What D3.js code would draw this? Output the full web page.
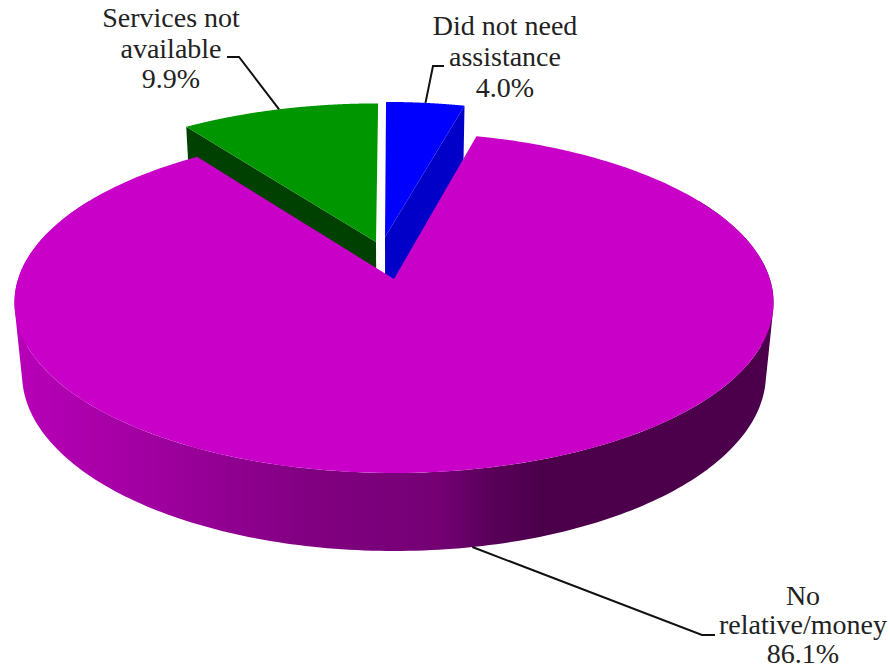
<!DOCTYPE html>
<html>
<head>
<meta charset="utf-8">
<script src="https://cdn.jsdelivr.net/npm/d3@7"></script>
<style>
  html, body { margin: 0; padding: 0; background: #fff; overflow: hidden; }
  svg { display: block; }
  text { font-family: "Liberation Serif", "Times New Roman", serif; font-size: 28px; fill: #222; text-anchor: middle; }
</style>
</head>
<body>
<svg id="chart" width="890" height="669"></svg>
<script>
// Share of respondents by reason
const categories = ["Did not need assistance", "No relative/money", "Services not available"];
const shares = [4.0, 86.1, 9.9];

const topColors = ["#0000ff", "#c800c8", "#009600"];
const wallColors = ["#0000c8", "url(#wallShade)", "#004000"];

// Label text, broken over lines as drawn
const labelLines = [
  ["Did not need", "assistance", "4.0%"],
  ["No", "relative/money", "86.1%"],
  ["Services not", "available", "9.9%"]
];
const labelCentres = [[505, 35], [803, 604.5], [171, 27]];
const labelLineStep = [31, 29, 30.5];
const leaderElbows = [[[444, 66], [433, 66]], [[715, 635], [702, 635]], [[227, 57], [239, 57]]];
const leaderRing = [0, 1, 0];               // 0 top rim, 1 bottom rim

// Slice placement on the pie's plane: explosion offset and radius
const sliceCentre = [[-0.0248, -0.2602], [0, 0], [-0.0494, -0.2283]];
const sliceRadius = [0.98, 1, 1.0];

// Perspective camera for the tilted disc
const apex = [394, 279];
const cam = { a: 375.9, b: 167.2, k: 0.138, m: 0.02, c: 72.7 };

function project(u, v, h) {
  const w = 1 - cam.k * v + cam.m * h;
  return [apex[0] + cam.a * u / w, apex[1] + (cam.b * v + cam.c * h) / w];
}

const pie = d3.pie().sort(null).value(d => d).startAngle(0).endAngle(2 * Math.PI);
const arcs = pie(shares);

const rimPoint = (i, angle, h) => {
  const [u0, v0] = sliceCentre[i];
  const r = sliceRadius[i];
  return project(u0 + r * Math.sin(angle), v0 - r * Math.cos(angle), h);
};
const centrePoint = (i, h) => project(sliceCentre[i][0], sliceCentre[i][1], h);
const sample = (a0, a1) => d3.range(0, 241).map(t => a0 + (a1 - a0) * t / 240);

const line = d3.line();
const svg = d3.select("#chart");

// Horizontal shading of the big slice's outer wall
const shadeStops = [[15, "#b800b8"], [150, "#a000a0"], [300, "#820082"], [440, "#740074"], [490, "#5a005a"], [540, "#4c004c"], [775, "#4c004c"]];
const grad = svg.append("defs").append("linearGradient")
  .attr("id", "wallShade").attr("gradientUnits", "userSpaceOnUse")
  .attr("x1", 15).attr("x2", 775).attr("y1", 0).attr("y2", 0);
const stopScale = d3.scaleLinear().domain([15, 775]).range([0, 1]);
grad.selectAll("stop").data(shadeStops).join("stop")
  .attr("offset", d => stopScale(d[0]))
  .attr("stop-color", d => d[1]);

// Walls of the two small slices sit behind the big slice
[0, 2].forEach(i => {
  const edge = i === 0 ? arcs[i].endAngle : arcs[i].startAngle;
  const quad = [centrePoint(i, 0), rimPoint(i, edge, 0), rimPoint(i, edge, 1), centrePoint(i, 1)];
  svg.append("path").attr("d", line(quad) + "Z").attr("fill", wallColors[i]);
  const rim = sample(arcs[i].startAngle, arcs[i].endAngle).map(a => rimPoint(i, a, 0));
  svg.append("path").attr("d", line([centrePoint(i, 0), ...rim]) + "Z").attr("fill", topColors[i]);
});

// Outer wall of the big slice, front part only: the top face hides the rest.
// Every quad is wound the same way so their union fills without holes.
const front = d3.range(60, 301).map(d => d * Math.PI / 180);
let wallPath = "";
front.slice(0, -1).forEach((a, n) => {
  const b = front[n + 1];
  const quad = [rimPoint(1, a, 0), rimPoint(1, b, 0), rimPoint(1, b, 1), rimPoint(1, a, 1)];
  if (d3.polygonArea(quad) < 0) quad.reverse();
  wallPath += line(quad) + "Z";
});
svg.append("path").attr("d", wallPath).attr("fill", wallColors[1]);

// Top face of the big slice
const bigRim = sample(arcs[1].startAngle, arcs[1].endAngle).map(a => rimPoint(1, a, 0));
svg.append("path").attr("d", line([centrePoint(1, 0), ...bigRim]) + "Z").attr("fill", topColors[1]);

// Leader lines run from each label to the middle of its slice's rim
arcs.forEach((d, i) => {
  const mid = (d.startAngle + d.endAngle) / 2;
  const pts = [...leaderElbows[i], rimPoint(i, mid, leaderRing[i])];
  svg.append("path").attr("d", line(pts)).attr("fill", "none")
    .attr("stroke", "#111").attr("stroke-width", 2);
});

// Labels
labelLines.forEach((lines, i) => {
  const t = svg.append("text").attr("aria-label", categories[i]);
  lines.forEach((s, n) => {
    t.append("tspan").attr("x", labelCentres[i][0])
      .attr("y", labelCentres[i][1] + n * labelLineStep[i])
      .text(s);
  });
});
</script>
</body>
</html>
